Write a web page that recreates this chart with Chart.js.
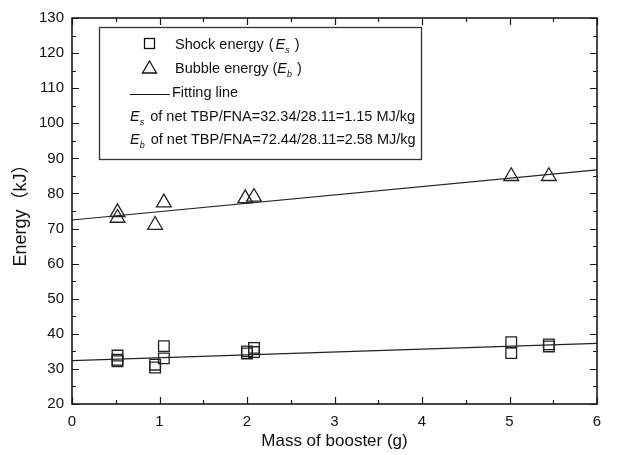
<!DOCTYPE html>
<html><head><meta charset="utf-8">
<script src="https://cdn.jsdelivr.net/npm/chart.js@4/dist/chart.umd.min.js"></script>
<style>html,body{margin:0;padding:0;background:#fff}#wrap{width:629px;height:455px;position:relative}</style>
</head><body><div id="wrap"><canvas id="c" width="629" height="455"></canvas></div>
<script>
// ---- data ----
const shockX = [0.52, 0.52, 0.52, 0.95, 0.95, 1.05, 1.05, 2.00, 2.00, 2.08, 2.08, 5.02, 5.02, 5.45, 5.45];
const shockY = [33.8, 32.6, 32.2, 31.2, 30.4, 36.5, 33.0, 35.0, 34.4, 36.0, 34.8, 37.6, 34.5, 37.0, 36.4];
const bubbleX = [0.52, 0.52, 0.95, 1.05, 1.98, 2.08, 5.02, 5.45];
const bubbleY = [74.6, 73.0, 71.0, 77.4, 78.6, 79.0, 84.9, 84.9];
const shockFitX = [0, 6];
const shockFitY = [32.34, 37.3];
const bubbleFitX = [0, 6];
const bubbleFitY = [72.44, 86.7];
const xTickLabels = [0, 1, 2, 3, 4, 5, 6];
const yTickLabels = [20, 30, 40, 50, 60, 70, 80, 90, 100, 110, 120, 130];
const xTitle = 'Mass of booster (g)';
const yTitle = 'Energy（kJ）';

const FONT = '"Liberation Sans", Arial, "Noto Sans CJK JP", sans-serif';
const zip = (xs, ys) => xs.map((x, i) => ({x, y: ys[i]}));

const framePlugin = {
  id: 'frame',
  afterDraw(chart) {
    const ctx = chart.ctx, a = chart.chartArea;
    const xs = chart.scales.x, ys = chart.scales.y;
    ctx.save();
    ctx.strokeStyle = '#1a1a1a';
    ctx.lineWidth = 1.6;
    ctx.strokeRect(a.left, a.top, a.right - a.left, a.bottom - a.top);
    ctx.lineWidth = 1.2;
    const major = 7, minor = 4;
    ctx.beginPath();
    for (let i = 0; i < xTickLabels.length; i++) {
      const v = xTickLabels[i];
      const px = Math.round(xs.getPixelForValue(v)) + 0.5;
      ctx.moveTo(px, a.bottom); ctx.lineTo(px, a.bottom - major);
      ctx.moveTo(px, a.top); ctx.lineTo(px, a.top + major);
      if (i < xTickLabels.length - 1) {
        const m = (v + xTickLabels[i + 1]) / 2;
        const pm = Math.round(xs.getPixelForValue(m)) + 0.5;
        ctx.moveTo(pm, a.bottom); ctx.lineTo(pm, a.bottom - minor);
        ctx.moveTo(pm, a.top); ctx.lineTo(pm, a.top + minor);
      }
    }
    for (let i = 0; i < yTickLabels.length; i++) {
      const v = yTickLabels[i];
      const py = Math.round(ys.getPixelForValue(v)) + 0.5;
      ctx.moveTo(a.left, py); ctx.lineTo(a.left + major, py);
      ctx.moveTo(a.right, py); ctx.lineTo(a.right - major, py);
      if (i < yTickLabels.length - 1) {
        const m = (v + yTickLabels[i + 1]) / 2;
        const pm = Math.round(ys.getPixelForValue(m)) + 0.5;
        ctx.moveTo(a.left, pm); ctx.lineTo(a.left + minor, pm);
        ctx.moveTo(a.right, pm); ctx.lineTo(a.right - minor, pm);
      }
    }
    ctx.stroke();

    // legend box
    const bx = 99, by = 27, bw = 322, bh = 132;
    ctx.fillStyle = '#fff';
    ctx.fillRect(bx, by, bw, bh);
    ctx.strokeStyle = '#333';
    ctx.lineWidth = 1.3;
    ctx.strokeRect(bx + 0.5, by + 0.5, bw, bh);

    const fs = 14.5;
    const norm = `${fs}px ${FONT}`;
    const ital = `italic ${fs}px ${FONT}`;
    const sub = `italic ${Math.round(fs * 0.62)}px ${FONT}`;
    ctx.fillStyle = '#111';
    ctx.textBaseline = 'alphabetic';
    function rich(x, y, segs) {
      for (const s of segs) {
        ctx.font = s.f;
        const dy = s.sub ? 4 : 0;
        ctx.fillText(s.t, x, y + dy);
        x += ctx.measureText(s.t).width + (s.gap || 0);
      }
    }
    // symbols
    ctx.strokeStyle = '#111';
    ctx.lineWidth = 1.3;
    ctx.strokeRect(144.5, 38.5, 10, 10);
    ctx.beginPath();
    ctx.moveTo(149.5, 61); ctx.lineTo(156.5, 73); ctx.lineTo(142.5, 73); ctx.closePath();
    ctx.stroke();
    ctx.lineWidth = 1.2;
    ctx.beginPath(); ctx.moveTo(130, 94.5); ctx.lineTo(170, 94.5); ctx.stroke();

    rich(175, 49, [{t: 'Shock energy', f: norm, gap: 5}, {t: '(', f: norm, gap: 2}, {t: 'E', f: ital}, {t: 's', f: sub, sub: true, gap: 5}, {t: ')', f: norm}]);
    rich(175, 73, [{t: 'Bubble energy (', f: norm}, {t: 'E', f: ital}, {t: 'b', f: sub, sub: true, gap: 5}, {t: ')', f: norm}]);
    rich(172, 97, [{t: 'Fitting line', f: norm}]);
    rich(130, 121, [{t: 'E', f: ital}, {t: 's', f: sub, sub: true, gap: 2}, {t: ' of net TBP/FNA=32.34/28.11=1.15 MJ/kg', f: norm}]);
    rich(130, 144, [{t: 'E', f: ital}, {t: 'b', f: sub, sub: true, gap: 2}, {t: ' of net TBP/FNA=72.44/28.11=2.58 MJ/kg', f: norm}]);
    ctx.restore();
  }
};

new Chart(document.getElementById('c'), {
  type: 'scatter',
  data: {
    datasets: [
      {label: 'Shock fit', data: zip(shockFitX, shockFitY), showLine: true, pointRadius: 0, borderColor: '#222', borderWidth: 1.2, order: 3},
      {label: 'Bubble fit', data: zip(bubbleFitX, bubbleFitY), showLine: true, pointRadius: 0, borderColor: '#222', borderWidth: 1.2, order: 3},
      {label: 'Shock energy', data: zip(shockX, shockY), pointStyle: 'rect', pointRadius: 7.5, borderColor: '#222', backgroundColor: 'rgba(0,0,0,0)', pointBorderWidth: 1.3, showLine: false, order: 1},
      {label: 'Bubble energy', data: zip(bubbleX, bubbleY), pointStyle: 'triangle', pointRadius: 8.5, borderColor: '#222', backgroundColor: 'rgba(0,0,0,0)', pointBorderWidth: 1.3, showLine: false, order: 1}
    ]
  },
  options: {
    responsive: false,
    animation: false,
    devicePixelRatio: 1,
    layout: {padding: {top: 18, right: 32, left: 0, bottom: 0}},
    plugins: {legend: {display: false}, tooltip: {enabled: false}},
    scales: {
      x: {
        type: 'linear', min: 0, max: 6,
        afterBuildTicks: s => { s.ticks = xTickLabels.map(v => ({value: v})); },
        afterFit: s => { s.height = 51; },
        grid: {display: false, drawTicks: false},
        border: {display: false},
        ticks: {color: '#111', font: {family: FONT, size: 15}, padding: 9, maxRotation: 0},
        title: {display: true, text: xTitle, color: '#111', font: {family: FONT, size: 17}, padding: {top: 0, bottom: 3}}
      },
      y: {
        type: 'linear', min: 20, max: 130,
        afterBuildTicks: s => { s.ticks = yTickLabels.map(v => ({value: v})); },
        afterFit: s => { s.width = 72; },
        grid: {display: false, drawTicks: false},
        border: {display: false},
        ticks: {color: '#111', font: {family: FONT, size: 15}, padding: 8},
        title: {display: true, text: yTitle, color: '#111', font: {family: FONT, size: 18}, padding: {top: 10, bottom: 0}}
      }
    }
  },
  plugins: [framePlugin]
});
</script>
</body></html>
